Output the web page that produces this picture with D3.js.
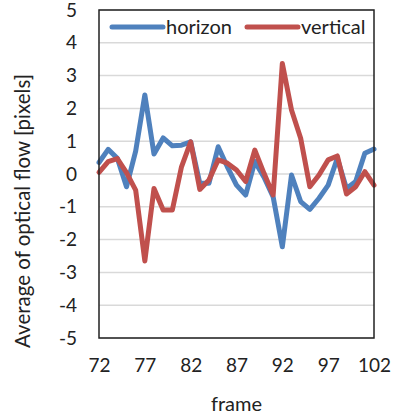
<!DOCTYPE html>
<html>
<head>
<meta charset="utf-8">
<script src="https://cdn.jsdelivr.net/npm/d3@7"></script>
<style>
  body { margin: 0; background: #fff; }
  text { font-family: Lato, "Noto Sans", sans-serif; fill: #222; }
</style>
</head>
<body>
<svg id="chart" width="394" height="419"></svg>
<script>
let frames = d3.range(72, 103);
let horizon = [0.35, 0.75, 0.48, -0.39, 0.7, 2.41, 0.61, 1.1, 0.86, 0.88, 0.98,
               -0.28, -0.28, 0.83, 0.22, -0.34, -0.64, 0.38, -0.1, -0.7, -2.22,
               -0.03, -0.84, -1.08, -0.74, -0.34, 0.48, -0.44, -0.23, 0.63, 0.76];
let vertical = [0.05, 0.38, 0.47, 0.04, -0.49, -2.65, -0.44, -1.1, -1.1, 0.22, 0.98,
                -0.47, -0.18, 0.43, 0.33, 0.12, -0.23, 0.73, 0.02, -0.64, 3.37,
                1.95, 1.09, -0.39, -0.03, 0.43, 0.55, -0.61, -0.39, 0.07, -0.34];
let xTicks = [72, 77, 82, 87, 92, 97, 102];
let yTicks = d3.range(-5, 6);
let seriesNames = ["horizon", "vertical"];
let colors = ["#4f81bd", "#c0504d"];

let plotLeft = 99, plotRight = 374, plotTop = 10, plotBottom = 338;

let chart = d3.select("#chart");

let x = d3.scaleLinear().domain([72, 102]).range([plotLeft, plotRight]);
let y = d3.scaleLinear().domain([-5, 5]).range([plotBottom, plotTop]);

// grid
chart.append("g")
  .selectAll("line")
  .data(yTicks)
  .enter()
  .append("line")
  .attr("x1", plotLeft).attr("x2", plotRight)
  .attr("y1", d => y(d)).attr("y2", d => y(d))
  .attr("stroke", "#d9d9d9")
  .attr("stroke-width", 1.5);

// y axis labels (plain hyphen for negatives, like the original)
let yAxis = chart.append("g")
  .attr("transform", `translate(${plotLeft},0)`)
  .call(d3.axisLeft(y).tickValues(yTicks).tickSize(0).tickPadding(22).tickFormat(d => String(d)));
yAxis.select(".domain").remove();
yAxis.selectAll("text")
  .attr("font-size", 19)
  .attr("font-family", "Lato, 'Noto Sans', sans-serif")
  .attr("fill", "#222");

// x axis labels
let xAxis = chart.append("g")
  .attr("transform", `translate(0,${plotBottom})`)
  .call(d3.axisBottom(x).tickValues(xTicks).tickSize(0).tickPadding(21));
xAxis.select(".domain").remove();
xAxis.selectAll("text")
  .attr("font-size", 19)
  .attr("font-family", "Lato, 'Noto Sans', sans-serif")
  .attr("fill", "#222");

// series lines
let line = d3.line()
  .x((d, i) => x(frames[i]))
  .y(d => y(d));

[horizon, vertical].forEach((s, i) => {
  chart.append("path")
    .datum(s)
    .attr("d", line)
    .attr("fill", "none")
    .attr("stroke", colors[i])
    .attr("stroke-width", 5)
    .attr("stroke-linejoin", "round")
    .attr("stroke-linecap", "round");
});

// plot border
chart.append("rect")
  .attr("x", plotLeft).attr("y", plotTop)
  .attr("width", plotRight - plotLeft).attr("height", plotBottom - plotTop)
  .attr("fill", "none")
  .attr("stroke", "#222")
  .attr("stroke-width", 1.5);

// legend
let legendX = [112, 247];
seriesNames.forEach((name, i) => {
  let g = chart.append("g").attr("transform", `translate(${legendX[i]},27)`);
  g.append("line")
    .attr("x1", 0).attr("x2", 51)
    .attr("stroke", colors[i])
    .attr("stroke-width", 5)
    .attr("stroke-linecap", "round");
  g.append("text")
    .attr("x", 54)
    .attr("y", 7)
    .attr("font-size", 20)
    .text(name);
});

// axis titles
chart.append("text")
  .attr("x", (plotLeft + plotRight) / 2)
  .attr("y", 411)
  .attr("text-anchor", "middle")
  .attr("font-size", 20)
  .text("frame");

chart.append("text")
  .attr("transform", "translate(30,211) rotate(-90)")
  .attr("text-anchor", "middle")
  .attr("font-size", 20.5)
  .text("Average of optical flow [pixels]");
</script>
</body>
</html>
